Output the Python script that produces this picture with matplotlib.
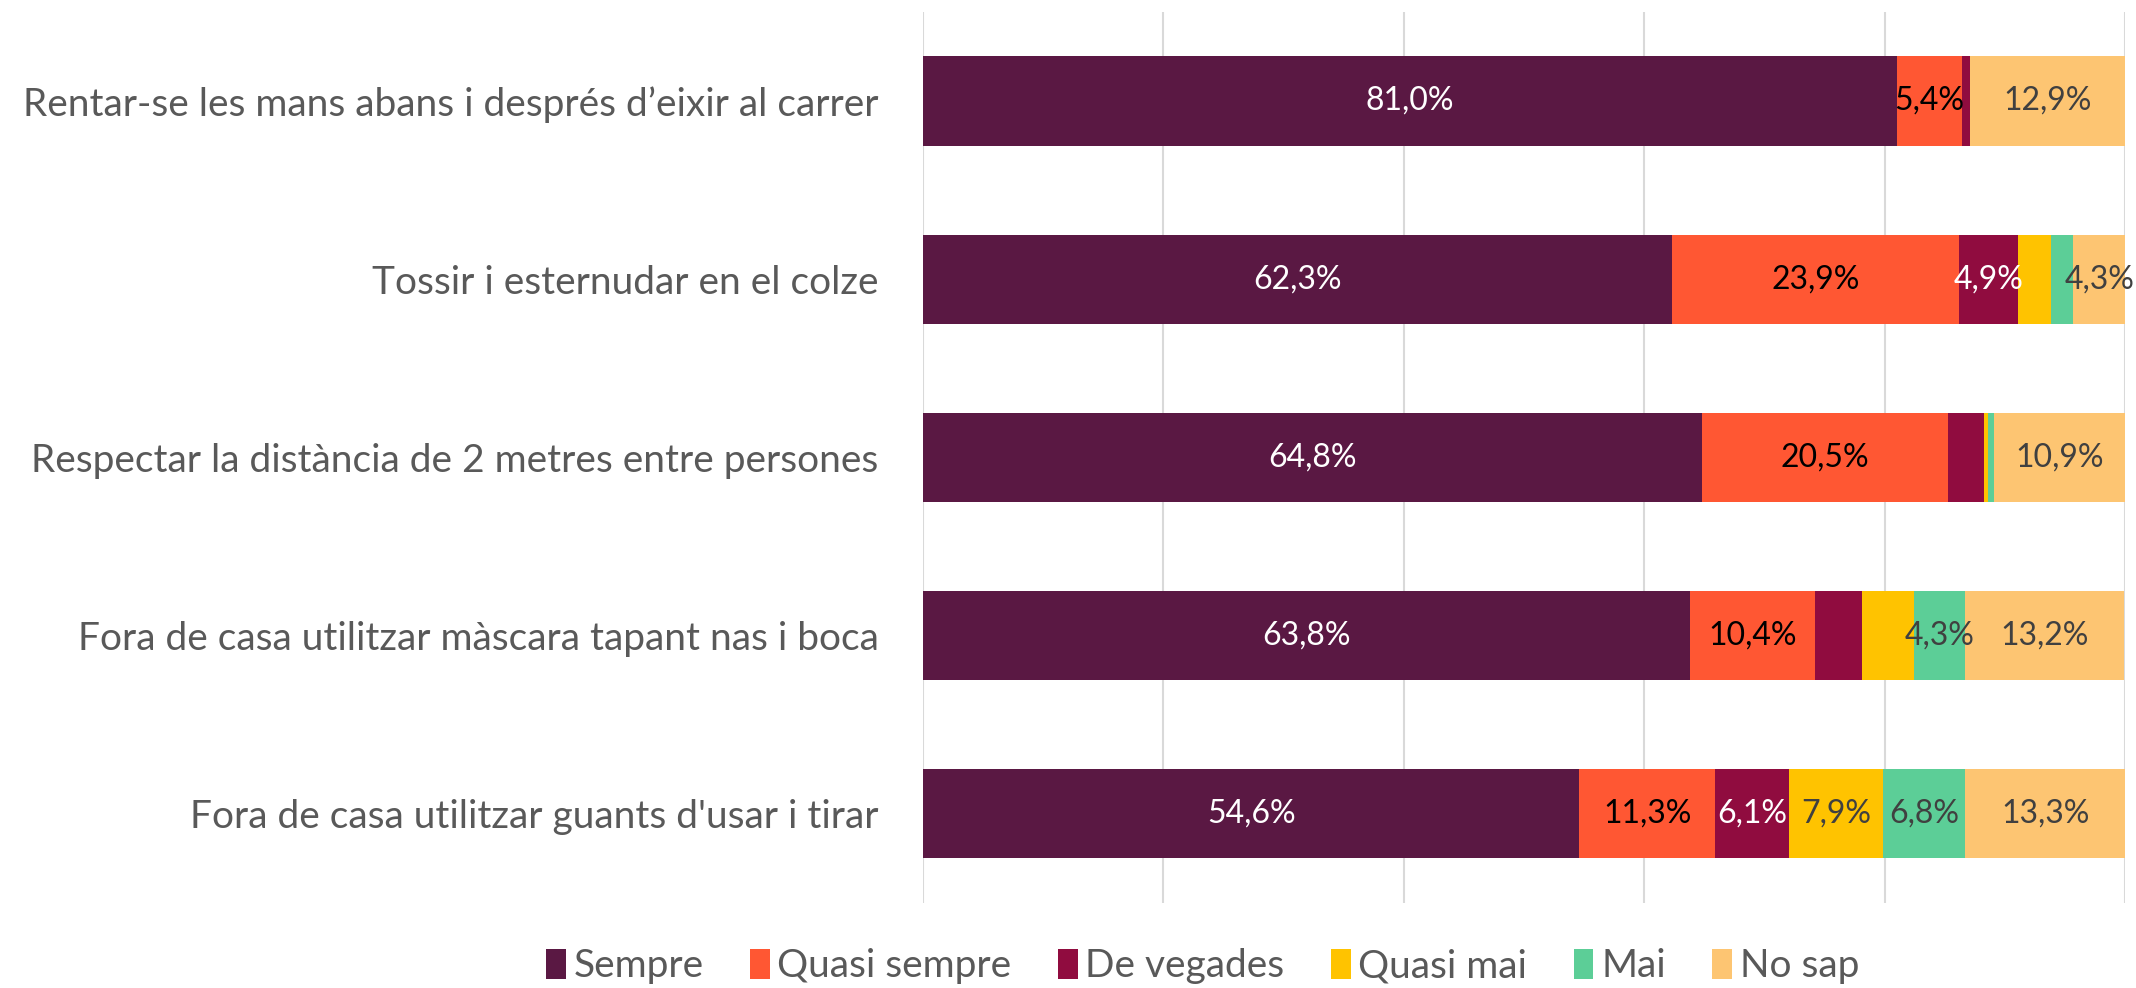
import numpy as np
import matplotlib
matplotlib.use("Agg")
import matplotlib.pyplot as plt

plt.rcParams['font.family'] = ['Lato', 'DejaVu Sans']

## Categories (top to bottom) and series values in percent.
categories = [
    "Rentar-se les mans abans i després d’eixir al carrer",
    "Tossir i esternudar en el colze",
    "Respectar la distància de 2 metres entre persones",
    "Fora de casa utilitzar màscara tapant nas i boca",
    "Fora de casa utilitzar guants d'usar i tirar",
]
series_names = ["Sempre", "Quasi sempre", "De vegades", "Quasi mai", "Mai", "No sap"]
sempre = [81.0, 62.3, 64.8, 63.8, 54.6]
quasi_sempre = [5.4, 23.9, 20.5, 10.4, 11.3]
de_vegades = [0.7, 4.9, 3.0, 3.9, 6.1]
quasi_mai = [0.0, 2.7, 0.3, 4.3, 7.9]
mai = [0.0, 1.9, 0.5, 4.3, 6.8]
no_sap = [12.9, 4.3, 10.9, 13.2, 13.3]

## Which values carry a label on the chart (True = show).
show_sempre = [True, True, True, True, True]
show_quasi_sempre = [True, True, True, True, True]
show_de_vegades = [False, True, False, False, True]
show_quasi_mai = [False, False, False, False, True]
show_mai = [False, False, False, True, True]
show_no_sap = [True, True, True, True, True]

colors = ["#5A1843", "#FF5733", "#900C3F", "#FFC300", "#5CCE97", "#FDC572"]
label_colors = ["white", "black", "white", "#404040", "#404040", "#404040"]

values = [sempre, quasi_sempre, de_vegades, quasi_mai, mai, no_sap]
shows = [show_sempre, show_quasi_sempre, show_de_vegades, show_quasi_mai, show_mai, show_no_sap]

fig = plt.figure(figsize=(21.36, 9.88), dpi=100)
ax = fig.add_axes([0.4321, 0.086, 0.5628, 0.902])

y = np.arange(len(categories))
left = np.zeros(len(categories))
for name, vals, col, lcol, show in zip(series_names, values, colors, label_colors, shows):
    vals = np.array(vals)
    ax.barh(y, vals, left=left, height=0.5, color=col, label=name, zorder=3)
    for i, v in enumerate(vals):
        if show[i]:
            ax.text(left[i] + v / 2, y[i], f"{v:.1f}%".replace(".", ","),
                    ha="center", va="center", color=lcol, fontsize=23, zorder=4)
    left += vals

ax.set_xlim(0, 100)
ax.set_ylim(len(categories) - 0.5, -0.5)
ax.set_xticks(np.arange(0, 101, 20))
ax.set_xticklabels([])
ax.set_yticks(y)
ax.set_yticklabels(categories, fontsize=28, color="#595959")
ax.tick_params(axis="both", length=0)
ax.tick_params(axis="y", pad=32)
ax.grid(axis="x", color="#d9d9d9", linewidth=1.5, zorder=0)
for s in ax.spines.values():
    s.set_visible(False)

fig.legend(loc="center", bbox_to_anchor=(0.563, 0.022), ncol=6, frameon=False,
           fontsize=28, handlelength=0.5, handleheight=0.8, handletextpad=0.2,
           columnspacing=1.2, labelcolor="#595959")

fig.savefig("out.png", dpi=100, facecolor="white")
